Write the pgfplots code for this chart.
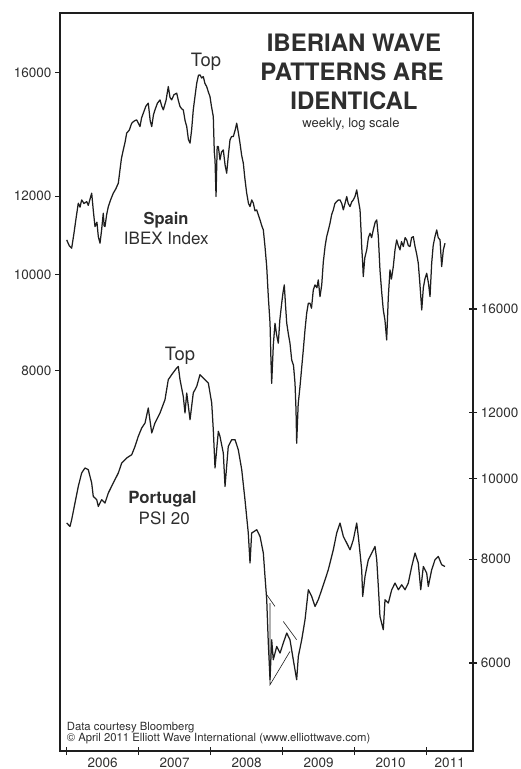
\documentclass[border=0pt]{standalone}
\usepackage{fontspec}
\setmainfont{TeX Gyre Heros}
\usepackage{pgfplots}
\pgfplotsset{compat=1.18}
\definecolor{ink}{HTML}{1E1E1E}
\definecolor{txt}{HTML}{2E2E2E}

\begin{document}
\begin{tikzpicture}[x=1pt,y=1pt]
\path[use as bounding box] (0,0) rectangle (520,769);

% ---------------- Spain, IBEX 35 (left scale) ----------------
\begin{axis}[
  at={(60pt,18pt)}, anchor=south west, scale only axis,
  width=413pt, height=738pt,
  xmin=2005.907, xmax=2011.643,
  ymode=log, ymin=3305, ymax=18380,
  xtick=\empty,
  ytick={8000,10000,12000,16000},
  yticklabels={8000,10000,12000,16000},
  ytick pos=left, tick align=outside, major tick length=5pt,
  axis line style={line width=1.4pt, draw=ink},
  every tick/.style={line width=1.2pt, draw=ink},
  yticklabel style={font=\fontsize{13.5}{14}\selectfont, text=txt},
  clip=true,
]
\addplot[ink, line width=1.25pt, line join=round] coordinates {
(2006.000,10843) (2006.035,10700) (2006.069,10636) (2006.100,11000) (2006.130,11400)
(2006.161,11809) (2006.185,11700) (2006.208,11900) (2006.240,11800) (2006.278,11853)
(2006.300,11750) (2006.347,12087) (2006.370,11600) (2006.393,11184) (2006.420,11300)
(2006.439,10927) (2006.463,10760) (2006.485,11100) (2006.508,11538) (2006.520,11200)
(2006.532,11184) (2006.555,11500) (2006.578,11716) (2006.610,11900) (2006.647,12087)
(2006.680,12200) (2006.717,12371) (2006.740,12760) (2006.760,13100) (2006.786,13367)
(2006.810,13600) (2006.833,13897) (2006.870,14000) (2006.903,14224) (2006.940,14300)
(2006.972,14333) (2007.000,14200) (2007.018,14112) (2007.040,14400) (2007.064,14558)
(2007.100,14800) (2007.133,14901) (2007.160,14300) (2007.181,14112) (2007.205,14500)
(2007.226,14671) (2007.260,14900) (2007.296,15016) (2007.320,14800) (2007.342,14671)
(2007.380,15000) (2007.411,15487) (2007.435,15100) (2007.458,15016) (2007.490,15200)
(2007.528,15252) (2007.550,15000) (2007.574,14784) (2007.600,14700) (2007.619,14671)
(2007.645,14300) (2007.667,14112) (2007.690,13700) (2007.713,13577) (2007.735,14000)
(2007.758,14671) (2007.785,15200) (2007.806,15610) (2007.830,15900) (2007.851,15915)
(2007.875,15800) (2007.897,15852) (2007.920,15600) (2007.944,15487) (2007.967,15300)
(2007.990,15131) (2008.010,14800) (2008.036,14444) (2008.050,13300) (2008.060,13060)
(2008.074,11992) (2008.090,13470) (2008.106,13470) (2008.129,13060) (2008.150,13300)
(2008.175,13367) (2008.200,12900) (2008.222,12662) (2008.245,13200) (2008.268,13682)
(2008.290,13787) (2008.314,13787) (2008.340,14000) (2008.361,14224) (2008.385,13900)
(2008.407,13577) (2008.430,13200) (2008.453,12960) (2008.475,12500) (2008.500,12087)
(2008.525,11800) (2008.546,11716) (2008.570,11900) (2008.592,11809) (2008.615,11600)
(2008.639,11627) (2008.660,11500) (2008.685,11359) (2008.710,11200) (2008.731,11098)
(2008.754,10676) (2008.778,10190) (2008.800,9504) (2008.824,8934) (2008.835,8300)
(2008.847,7770) (2008.870,8500) (2008.893,8934) (2008.915,8700) (2008.939,8528)
(2008.960,9000) (2008.986,9359) (2009.005,9600) (2009.022,9766) (2009.040,9300)
(2009.056,8934) (2009.080,8700) (2009.101,8528) (2009.125,8203) (2009.150,8100)
(2009.171,7770) (2009.185,7300) (2009.194,6758) (2009.215,7400) (2009.240,7709)
(2009.260,8000) (2009.286,8396) (2009.310,8800) (2009.333,9144) (2009.356,9359)
(2009.379,9359) (2009.400,9250) (2009.425,9653) (2009.449,9766) (2009.475,9700)
(2009.494,9880) (2009.518,9504) (2009.542,9766) (2009.564,10300) (2009.590,10700)
(2009.611,10927) (2009.635,11100) (2009.657,11272) (2009.680,11500) (2009.703,11627)
(2009.725,11800) (2009.750,11853) (2009.775,11900) (2009.796,11900) (2009.820,11800)
(2009.842,11627) (2009.865,11800) (2009.889,11992) (2009.910,11800) (2009.935,11716)
(2009.960,11850) (2009.981,11900) (2010.005,12000) (2010.028,12180) (2010.050,11900)
(2010.074,11627) (2010.090,11000) (2010.097,10676) (2010.110,10300) (2010.119,9956)
(2010.140,10400) (2010.167,10594) (2010.190,10900) (2010.213,11013) (2010.235,10900)
(2010.258,11098) (2010.285,11300) (2010.306,11359) (2010.328,10927) (2010.351,10112)
(2010.375,9600) (2010.397,9214) (2010.420,9000) (2010.444,8593) (2010.467,9504)
(2010.490,10112) (2010.510,9900) (2010.536,10190) (2010.560,10600) (2010.583,10843)
(2010.605,10700) (2010.629,10594) (2010.650,10800) (2010.675,10676) (2010.700,10900)
(2010.722,10843) (2010.745,10700) (2010.768,10676) (2010.790,10900) (2010.814,10927)
(2010.838,10676) (2010.860,10500) (2010.883,10271) (2010.905,9800) (2010.931,9214)
(2010.953,9700) (2010.975,9900) (2011.000,10035) (2011.025,9800) (2011.046,9504)
(2011.069,10271) (2011.090,10700) (2011.115,10927) (2011.139,11098) (2011.160,10900)
(2011.185,10843) (2011.208,10190) (2011.231,10594) (2011.254,10760)
};
\end{axis}

% ---------------- Portugal, PSI 20 (right scale) ----------------
\begin{axis}[
  at={(60pt,18pt)}, anchor=south west, scale only axis,
  width=413pt, height=738pt,
  xmin=2005.907, xmax=2011.643,
  ymode=log, ymin=4703, ymax=36330,
  axis y line*=right, axis x line*=bottom,
  xtick={2006.5,2007.5,2008.5,2009.5,2010.5,2011.32},
  xticklabels={2006,2007,2008,2009,2010,2011},
  major x tick style={draw=none},
  minor xtick={2006,2007,2008,2009,2010,2011},
  ytick={6000,8000,10000,12000,16000},
  yticklabels={6000,8000,10000,12000,16000},
  tick align=center, major tick length=8.5pt, minor tick length=8.5pt,
  axis line style={line width=1.4pt, draw=ink},
  every tick/.style={line width=1.2pt, draw=ink},
  yticklabel style={font=\fontsize{13.5}{14}\selectfont, text=txt},
  xticklabel style={font=\fontsize{13.5}{14}\selectfont, text=txt,
                    inner sep=0pt, anchor=north, yshift=-2.6pt},
]
\addplot[ink, line width=1.25pt, line join=round] coordinates {
(2006.000,8843) (2006.046,8760) (2006.069,8924) (2006.115,9347) (2006.161,9787)
(2006.208,10157) (2006.254,10299) (2006.300,10250) (2006.347,9880) (2006.369,9519)
(2006.417,9433) (2006.439,9259) (2006.486,9433) (2006.532,9347) (2006.578,9609)
(2006.647,9880) (2006.717,10157) (2006.764,10442) (2006.833,10588) (2006.903,10685)
(2006.949,10934) (2006.994,11241) (2007.042,11506) (2007.088,11666) (2007.133,12162)
(2007.181,11348) (2007.226,11666) (2007.296,11994) (2007.365,12444) (2007.411,13154)
(2007.458,13337) (2007.528,13587) (2007.550,13647) (2007.574,13154) (2007.619,12559)
(2007.643,11994) (2007.667,12678) (2007.713,11774) (2007.758,12678) (2007.806,12912)
(2007.851,13337) (2007.921,13154) (2007.967,13034) (2008.014,12331) (2008.036,11452)
(2008.060,10299) (2008.106,11400) (2008.129,11241) (2008.175,10736) (2008.199,9787)
(2008.244,10934) (2008.292,11139) (2008.338,11139) (2008.383,10835) (2008.431,10250)
(2008.476,9433) (2008.522,8601) (2008.546,7915) (2008.569,8601) (2008.639,8680)
(2008.685,8521) (2008.731,8138) (2008.754,7627) (2008.778,7150) (2008.800,6342)
(2008.824,5729) (2008.847,6400) (2008.869,6055) (2008.917,6282) (2008.963,6168)
(2009.008,6342) (2009.056,6520) (2009.101,6400) (2009.147,6055) (2009.194,5729)
(2009.217,6111) (2009.264,6400) (2009.310,6765) (2009.356,7351) (2009.403,7216)
(2009.449,7019) (2009.494,7150) (2009.542,7351) (2009.588,7557) (2009.633,7770)
(2009.703,8212) (2009.750,8601) (2009.796,8843) (2009.842,8521) (2009.889,8366)
(2009.935,8212) (2009.981,8443) (2010.028,8843) (2010.050,8521) (2010.074,8138)
(2010.097,7770) (2010.111,7216) (2010.143,7627) (2010.189,7988) (2010.236,8138)
(2010.282,8288) (2010.306,7988) (2010.328,7418) (2010.351,6827) (2010.397,6580)
(2010.421,7150) (2010.467,7085) (2010.514,7351) (2010.560,7489) (2010.606,7351)
(2010.653,7453) (2010.699,7351) (2010.744,7489) (2010.792,7841) (2010.838,8138)
(2010.883,7915) (2010.917,7351) (2010.953,7841) (2011.000,7699) (2011.022,7418)
(2011.069,7770) (2011.115,7988) (2011.161,8061) (2011.208,7878) (2011.254,7841)
};
% wave-count lines around the 2008--2009 low
\addplot[ink, line width=0.6pt] coordinates {(2008.778,7250) (2008.893,7019)};
\addplot[ink, line width=0.6pt] coordinates {(2008.824,7085) (2008.824,5650) (2009.101,6196)};
\addplot[ink, line width=0.6pt] coordinates {(2009.008,6733) (2009.194,6400)};
\end{axis}

% ---------------- titles and labels ----------------
\begin{scope}[every node/.style={text=txt, inner sep=0pt}]
\node[anchor=base, font=\bfseries\fontsize{24}{26}\selectfont] at (354,717) {IBERIAN WAVE};
\node[anchor=base, font=\bfseries\fontsize{24}{26}\selectfont] at (352,688) {PATTERNS ARE};
\node[anchor=base, font=\bfseries\fontsize{24}{26}\selectfont] at (354,659) {IDENTICAL};
\node[anchor=base, font=\fontsize{13}{14}\selectfont] at (351,641) {weekly, log scale};

\node[anchor=base, font=\fontsize{18.4}{20}\selectfont] at (206,702.5) {Top};
\node[anchor=base, font=\fontsize{18.4}{20}\selectfont] at (180,408.5) {Top};

\node[anchor=base, font=\bfseries\fontsize{16.5}{18}\selectfont] at (166,544) {Spain};
\node[anchor=base, font=\fontsize{17}{18}\selectfont] at (166.3,524) {IBEX Index};
\node[anchor=base, font=\bfseries\fontsize{16.8}{18}\selectfont] at (162.5,265.7) {Portugal};
\node[anchor=base, font=\fontsize{17}{18}\selectfont] at (164.2,244) {PSI 20};

\node[anchor=base west, font=\fontsize{11.3}{12}\selectfont] at (66.7,38.5) {Data courtesy Bloomberg};
\node[anchor=base west, font=\fontsize{11.3}{12}\selectfont] at (66.7,27.5) {© April 2011 Elliott Wave International (www.elliottwave.com)};
\end{scope}
\end{tikzpicture}
\end{document}
